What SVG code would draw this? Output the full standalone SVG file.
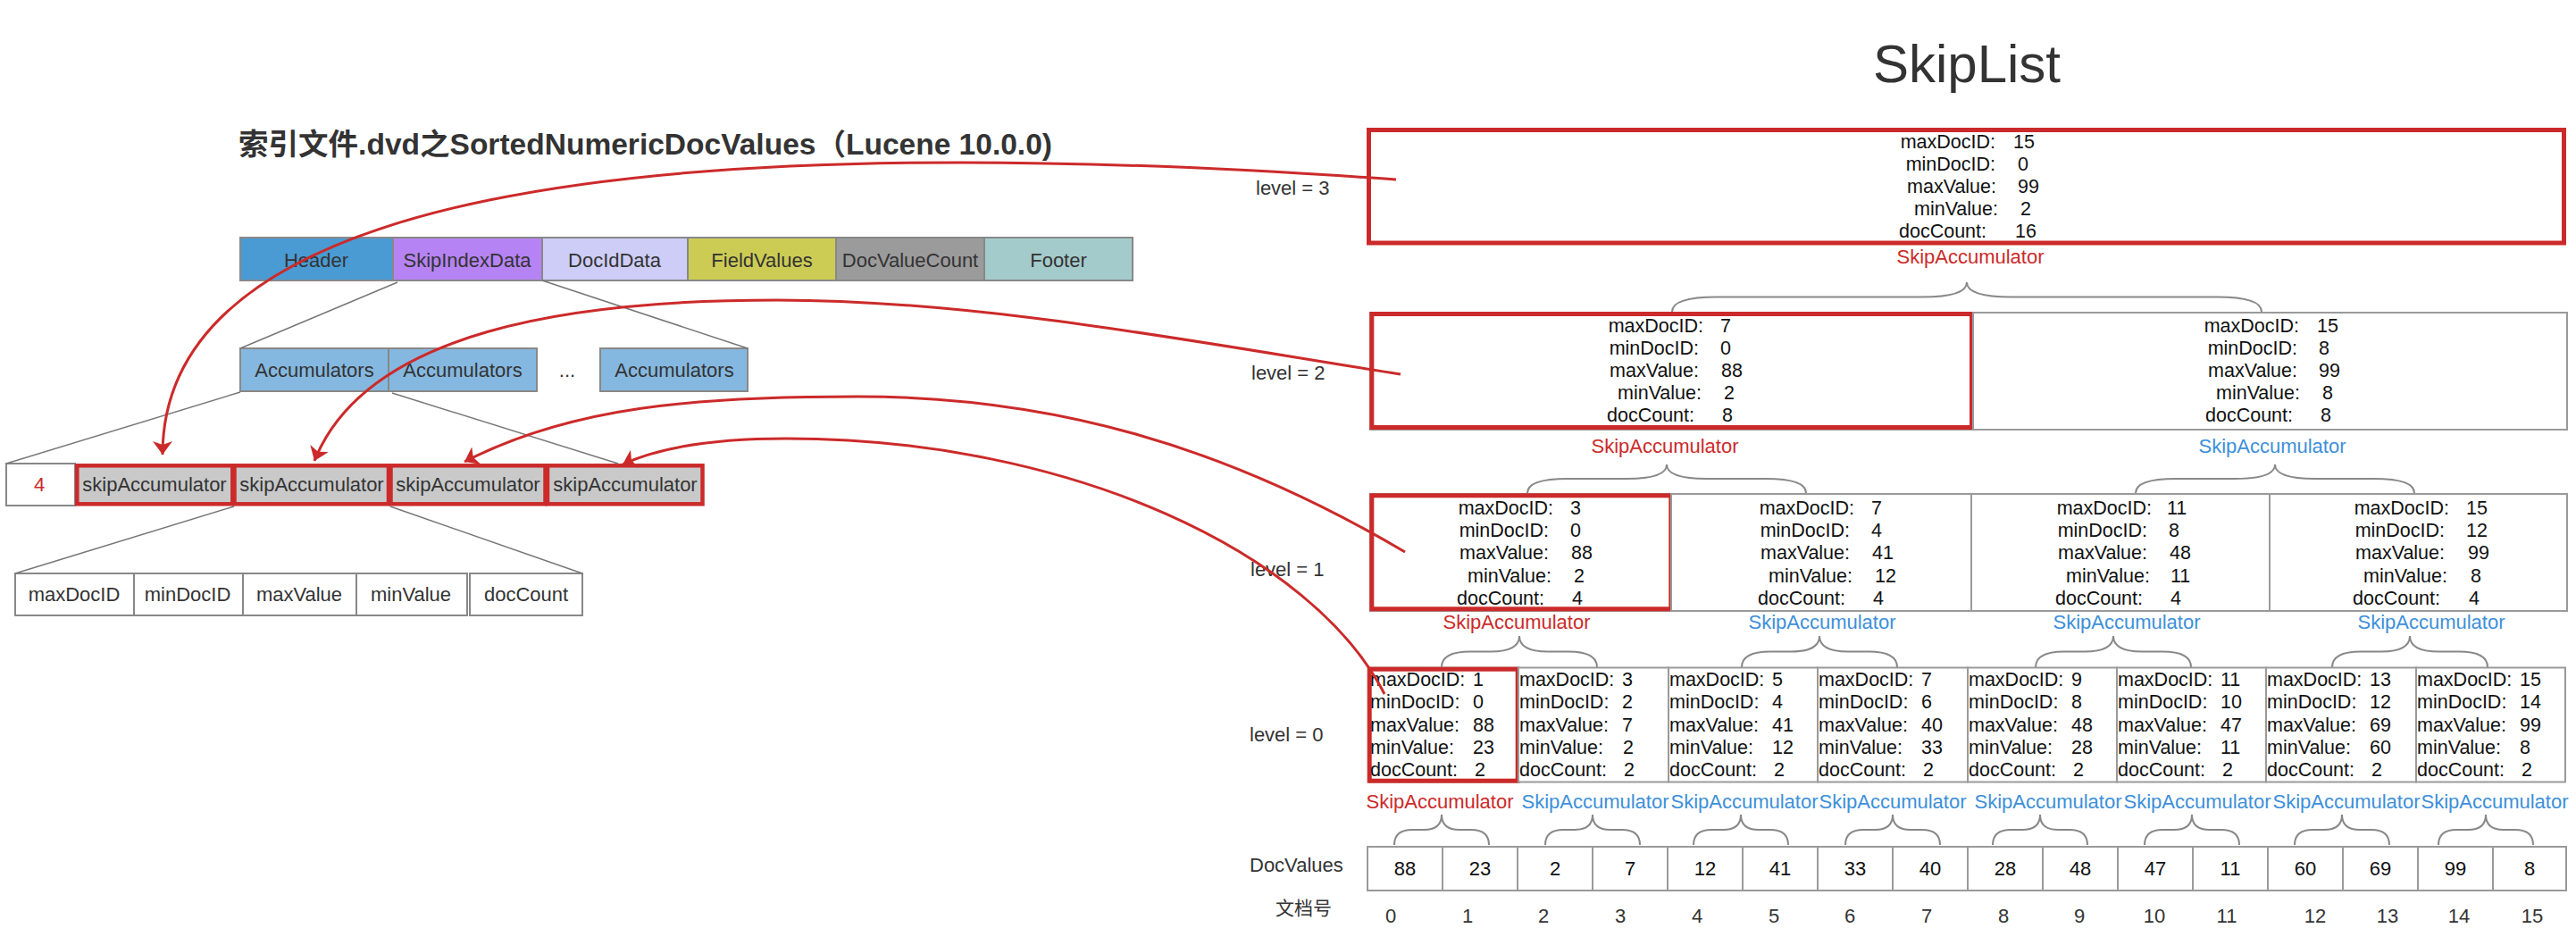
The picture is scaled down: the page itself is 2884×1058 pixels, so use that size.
<svg xmlns="http://www.w3.org/2000/svg" width="2884" height="1058" viewBox="0 0 2884 1058">
<style>
.t{font-family:"Liberation Sans",Arial,"Noto Sans CJK SC",sans-serif;font-size:22px;fill:#333}
.d{font-family:"Liberation Sans",Arial,sans-serif;font-size:21.5px;fill:#111}
.c{text-anchor:middle}
.e{text-anchor:end}
.red{fill:#cc2a2a}
.blue{fill:#3d8fd9}
.box{fill:#fff;stroke:#9a9a9a;stroke-width:2}
.hl{fill:none;stroke:#cc2a2a;stroke-width:5}
.cell{stroke:#888;stroke-width:2}
.skc{fill:#c9c9c9;stroke:#cc2a2a;stroke-width:4.5}
.gl{fill:none;stroke:#777;stroke-width:1.5}
.brace{fill:none;stroke:#888;stroke-width:2}
.arr{fill:none;stroke:#cc2a2a;stroke-width:3;marker-end:url(#ah)}
</style>
<defs>
<marker id="ah" markerUnits="userSpaceOnUse" viewBox="0 0 15 22" refX="15" refY="11" markerWidth="15" markerHeight="22" orient="auto">
<path d="M0,0 L15,11 L0,22 L4,11 Z" fill="#cc2a2a"/>
</marker>
<path id="brA" class="brace" d="M-330,33 Q-330,16.5 -280,16.5 L-50,16.5 Q0,16.5 0,0 Q0,16.5 50,16.5 L280,16.5 Q330,16.5 330,33"/>
<path id="brB" class="brace" d="M-156,32 Q-156,16 -111,16 L-45,16 Q0,16 0,0 Q0,16 45,16 L111,16 Q156,16 156,32"/>
<path id="brC" class="brace" d="M-87,35 Q-87,17.5 -55,17.5 L-32,17.5 Q0,17.5 0,0 Q0,17.5 32,17.5 L55,17.5 Q87,17.5 87,35"/>
<path id="brD" class="brace" d="M-53,34 Q-53,17 -33,17 L-20,17 Q0,17 0,0 Q0,17 20,17 L33,17 Q53,17 53,34"/>
</defs>
<rect width="2884" height="1058" fill="#fff"/>

<g id="titles">
<text x="267" y="173" textLength="911" lengthAdjust="spacingAndGlyphs" style="font-family:'Liberation Sans',Arial,'Noto Sans CJK SC',sans-serif;font-size:33px;font-weight:bold;fill:#333">索引文件.dvd之SortedNumericDocValues（Lucene 10.0.0)</text>
<text x="2202" y="92" class="c" style="font-family:'Liberation Sans',Arial,sans-serif;font-size:60px;fill:#333">SkipList</text>
</g>

<!-- left: file structure -->
<g id="header-row">
<rect class="cell" x="269" y="266" width="171" height="48" fill="#4a9bd3"/>
<rect class="cell" x="440" y="266" width="167" height="48" fill="#b683f4"/>
<rect class="cell" x="607" y="266" width="163" height="48" fill="#cdcdf8"/>
<rect class="cell" x="770" y="266" width="166" height="48" fill="#cccc55"/>
<rect class="cell" x="936" y="266" width="166" height="48" fill="#9b9b9b"/>
<rect class="cell" x="1102" y="266" width="166" height="48" fill="#a4cbcc"/>
<text class="t c" x="354" y="299">Header</text>
<text class="t c" x="523" y="299">SkipIndexData</text>
<text class="t c" x="688" y="299">DocIdData</text>
<text class="t c" x="853" y="299">FieldValues</text>
<text class="t c" x="1019" y="299">DocValueCount</text>
<text class="t c" x="1185" y="299">Footer</text>
</g>

<g id="accumulators">
<rect class="cell" x="269" y="390" width="166" height="48" fill="#85b8e0"/>
<rect class="cell" x="435" y="390" width="166" height="48" fill="#85b8e0"/>
<rect class="cell" x="672" y="390" width="165" height="48" fill="#85b8e0"/>
<text class="t c" x="352" y="422">Accumulators</text>
<text class="t c" x="518" y="422">Accumulators</text>
<text class="t c" x="635" y="422">...</text>
<text class="t c" x="755" y="422">Accumulators</text>
</g>

<g id="skip-row">
<rect class="cell" x="7" y="519" width="77" height="47" fill="#fff"/>
<text class="t c red" x="44" y="550">4</text>
<rect class="skc" x="86.3" y="521.3" width="174" height="43"/>
<rect class="skc" x="262.5" y="521.3" width="172.5" height="43"/>
<rect class="skc" x="437.5" y="521.3" width="173" height="43"/>
<rect class="skc" x="613" y="521.3" width="173.5" height="43"/>
<text class="t c" x="173" y="550">skipAccumulator</text>
<text class="t c" x="349" y="550">skipAccumulator</text>
<text class="t c" x="524" y="550">skipAccumulator</text>
<text class="t c" x="700" y="550">skipAccumulator</text>
</g>

<g id="fields-row">
<rect class="cell" x="17" y="642" width="133" height="47" fill="#fff"/>
<rect class="cell" x="150" y="642" width="122" height="47" fill="#fff"/>
<rect class="cell" x="272" y="642" width="127" height="47" fill="#fff"/>
<rect class="cell" x="399" y="642" width="124" height="47" fill="#fff"/>
<rect class="cell" x="526" y="642" width="126" height="47" fill="#fff"/>
<text class="t c" x="83" y="673">maxDocID</text>
<text class="t c" x="210" y="673">minDocID</text>
<text class="t c" x="335" y="673">maxValue</text>
<text class="t c" x="460" y="673">minValue</text>
<text class="t c" x="589" y="673">docCount</text>
</g>

<g id="left-lines">
<line class="gl" x1="445" y1="316" x2="269" y2="390"/>
<line class="gl" x1="607" y1="314" x2="837" y2="390"/>
<line class="gl" x1="269" y1="439" x2="7" y2="519"/>
<line class="gl" x1="439" y1="440" x2="692" y2="519"/>
<line class="gl" x1="262" y1="567" x2="17" y2="642"/>
<line class="gl" x1="437" y1="567" x2="652" y2="642"/>
</g>

<!-- right: skip list -->
<g id="level-labels">
<text class="t" x="1406" y="218">level = 3</text>
<text class="t" x="1401" y="425">level = 2</text>
<text class="t" x="1400" y="645">level = 1</text>
<text class="t" x="1399" y="830">level = 0</text>
<text class="t" x="1399" y="976">DocValues</text>
<text class="t" x="1428" y="1024" style="font-size:21px">文档号</text>
</g>

<g id="level3">
<rect class="box" x="1533" y="146" width="1339" height="126"/>
<rect class="hl" x="1532.5" y="145.5" width="1338" height="126.5"/>
<text class="d e"><tspan x="2234" y="166">maxDocID:</tspan><tspan x="2234" y="191">minDocID:</tspan><tspan x="2235" y="216">maxValue:</tspan><tspan x="2237" y="241">minValue:</tspan><tspan x="2224" y="266">docCount:</tspan></text>
<text class="d"><tspan x="2254" y="166">15</tspan><tspan x="2259" y="191">0</tspan><tspan x="2259" y="216">99</tspan><tspan x="2262" y="241">2</tspan><tspan x="2256" y="266">16</tspan></text>
<text class="t c red" x="2206" y="295">SkipAccumulator</text>
</g>

<g id="level2-1">
<rect class="box" x="1534" y="350" width="673" height="131"/>
<rect class="hl" x="1535.8" y="351.5" width="671.7" height="127"/>
<text class="d e"><tspan x="1907" y="372">maxDocID:</tspan><tspan x="1902" y="397">minDocID:</tspan><tspan x="1902" y="422">maxValue:</tspan><tspan x="1905" y="447">minValue:</tspan><tspan x="1897" y="472">docCount:</tspan></text>
<text class="d"><tspan x="1926" y="372">7</tspan><tspan x="1926" y="397">0</tspan><tspan x="1927" y="422">88</tspan><tspan x="1930" y="447">2</tspan><tspan x="1928" y="472">8</tspan></text>
<text class="t c red" x="1864" y="507">SkipAccumulator</text>
</g>
<g id="level2-2">
<rect class="box" x="2209" y="350" width="665" height="131"/>
<text class="d e"><tspan x="2574" y="372">maxDocID:</tspan><tspan x="2572" y="397">minDocID:</tspan><tspan x="2572" y="422">maxValue:</tspan><tspan x="2575" y="447">minValue:</tspan><tspan x="2567" y="472">docCount:</tspan></text>
<text class="d"><tspan x="2594" y="372">15</tspan><tspan x="2596" y="397">8</tspan><tspan x="2596" y="422">99</tspan><tspan x="2600" y="447">8</tspan><tspan x="2598" y="472">8</tspan></text>
<text class="t c blue" x="2544" y="507">SkipAccumulator</text>
</g>

<g id="level1-1">
<rect class="box" x="1534" y="553" width="337" height="131"/>
<rect class="hl" x="1535.8" y="554.8" width="335" height="127"/>
<text class="d e"><tspan x="1739" y="576">maxDocID:</tspan><tspan x="1734" y="601">minDocID:</tspan><tspan x="1734" y="626">maxValue:</tspan><tspan x="1737" y="652">minValue:</tspan><tspan x="1729" y="677">docCount:</tspan></text>
<text class="d"><tspan x="1758" y="576">3</tspan><tspan x="1758" y="601">0</tspan><tspan x="1759" y="626">88</tspan><tspan x="1762" y="652">2</tspan><tspan x="1760" y="677">4</tspan></text>
<text class="t c red" x="1698" y="704">SkipAccumulator</text>
</g>
<g id="level1-2">
<rect class="box" x="1871" y="553" width="336" height="131"/>
<text class="d e"><tspan x="2076" y="576">maxDocID:</tspan><tspan x="2071" y="601">minDocID:</tspan><tspan x="2071" y="626">maxValue:</tspan><tspan x="2074" y="652">minValue:</tspan><tspan x="2066" y="677">docCount:</tspan></text>
<text class="d"><tspan x="2095" y="576">7</tspan><tspan x="2095" y="601">4</tspan><tspan x="2096" y="626">41</tspan><tspan x="2099" y="652">12</tspan><tspan x="2097" y="677">4</tspan></text>
<text class="t c blue" x="2040" y="704">SkipAccumulator</text>
</g>
<g id="level1-3">
<rect class="box" x="2207" y="553" width="334" height="131"/>
<text class="d e"><tspan x="2409" y="576">maxDocID:</tspan><tspan x="2404" y="601">minDocID:</tspan><tspan x="2404" y="626">maxValue:</tspan><tspan x="2407" y="652">minValue:</tspan><tspan x="2399" y="677">docCount:</tspan></text>
<text class="d"><tspan x="2426" y="576">11</tspan><tspan x="2428" y="601">8</tspan><tspan x="2429" y="626">48</tspan><tspan x="2430" y="652">11</tspan><tspan x="2430" y="677">4</tspan></text>
<text class="t c blue" x="2381" y="704">SkipAccumulator</text>
</g>
<g id="level1-4">
<rect class="box" x="2541" y="553" width="333" height="131"/>
<text class="d e"><tspan x="2742" y="576">maxDocID:</tspan><tspan x="2737" y="601">minDocID:</tspan><tspan x="2737" y="626">maxValue:</tspan><tspan x="2740" y="652">minValue:</tspan><tspan x="2732" y="677">docCount:</tspan></text>
<text class="d"><tspan x="2761" y="576">15</tspan><tspan x="2761" y="601">12</tspan><tspan x="2763" y="626">99</tspan><tspan x="2766" y="652">8</tspan><tspan x="2764" y="677">4</tspan></text>
<text class="t c blue" x="2722" y="704">SkipAccumulator</text>
</g>

<g id="level0-1">
<rect class="box" x="1533" y="747.5" width="167" height="128"/>
<rect class="hl" x="1533.2" y="749.2" width="166" height="125"/>
<text class="d"><tspan x="1534" y="768">maxDocID:</tspan><tspan x="1649">1</tspan><tspan x="1534" y="793">minDocID:</tspan><tspan x="1649">0</tspan><tspan x="1534" y="819">maxValue:</tspan><tspan x="1649">88</tspan><tspan x="1534" y="844">minValue:</tspan><tspan x="1649">23</tspan><tspan x="1534" y="869">docCount:</tspan><tspan x="1651">2</tspan></text>
<text class="t c red" x="1612" y="905">SkipAccumulator</text>
</g>
<g id="level0-2">
<rect class="box" x="1700" y="747.5" width="168" height="128"/>
<text class="d"><tspan x="1701" y="768">maxDocID:</tspan><tspan x="1816">3</tspan><tspan x="1701" y="793">minDocID:</tspan><tspan x="1816">2</tspan><tspan x="1701" y="819">maxValue:</tspan><tspan x="1816">7</tspan><tspan x="1701" y="844">minValue:</tspan><tspan x="1817">2</tspan><tspan x="1701" y="869">docCount:</tspan><tspan x="1818">2</tspan></text>
<text class="t c blue" x="1786" y="905">SkipAccumulator</text>
</g>
<g id="level0-3">
<rect class="box" x="1868" y="747.5" width="167" height="128"/>
<text class="d"><tspan x="1869" y="768">maxDocID:</tspan><tspan x="1984">5</tspan><tspan x="1869" y="793">minDocID:</tspan><tspan x="1984">4</tspan><tspan x="1869" y="819">maxValue:</tspan><tspan x="1984">41</tspan><tspan x="1869" y="844">minValue:</tspan><tspan x="1984">12</tspan><tspan x="1869" y="869">docCount:</tspan><tspan x="1986">2</tspan></text>
<text class="t c blue" x="1953" y="905">SkipAccumulator</text>
</g>
<g id="level0-4">
<rect class="box" x="2035" y="747.5" width="168" height="128"/>
<text class="d"><tspan x="2036" y="768">maxDocID:</tspan><tspan x="2151">7</tspan><tspan x="2036" y="793">minDocID:</tspan><tspan x="2151">6</tspan><tspan x="2036" y="819">maxValue:</tspan><tspan x="2151">40</tspan><tspan x="2036" y="844">minValue:</tspan><tspan x="2151">33</tspan><tspan x="2036" y="869">docCount:</tspan><tspan x="2153">2</tspan></text>
<text class="t c blue" x="2119" y="905">SkipAccumulator</text>
</g>
<g id="level0-5">
<rect class="box" x="2203" y="747.5" width="167" height="128"/>
<text class="d"><tspan x="2204" y="768">maxDocID:</tspan><tspan x="2319">9</tspan><tspan x="2204" y="793">minDocID:</tspan><tspan x="2319">8</tspan><tspan x="2204" y="819">maxValue:</tspan><tspan x="2319">48</tspan><tspan x="2204" y="844">minValue:</tspan><tspan x="2319">28</tspan><tspan x="2204" y="869">docCount:</tspan><tspan x="2321">2</tspan></text>
<text class="t c blue" x="2293" y="905">SkipAccumulator</text>
</g>
<g id="level0-6">
<rect class="box" x="2370" y="747.5" width="167" height="128"/>
<text class="d"><tspan x="2371" y="768">maxDocID:</tspan><tspan x="2486">11</tspan><tspan x="2371" y="793">minDocID:</tspan><tspan x="2486">10</tspan><tspan x="2371" y="819">maxValue:</tspan><tspan x="2486">47</tspan><tspan x="2371" y="844">minValue:</tspan><tspan x="2486">11</tspan><tspan x="2371" y="869">docCount:</tspan><tspan x="2488">2</tspan></text>
<text class="t c blue" x="2460" y="905">SkipAccumulator</text>
</g>
<g id="level0-7">
<rect class="box" x="2537" y="747.5" width="168" height="128"/>
<text class="d"><tspan x="2538" y="768">maxDocID:</tspan><tspan x="2653">13</tspan><tspan x="2538" y="793">minDocID:</tspan><tspan x="2653">12</tspan><tspan x="2538" y="819">maxValue:</tspan><tspan x="2653">69</tspan><tspan x="2538" y="844">minValue:</tspan><tspan x="2653">60</tspan><tspan x="2538" y="869">docCount:</tspan><tspan x="2655">2</tspan></text>
<text class="t c blue" x="2627" y="905">SkipAccumulator</text>
</g>
<g id="level0-8">
<rect class="box" x="2705" y="747.5" width="167" height="128"/>
<text class="d"><tspan x="2706" y="768">maxDocID:</tspan><tspan x="2821">15</tspan><tspan x="2706" y="793">minDocID:</tspan><tspan x="2821">14</tspan><tspan x="2706" y="819">maxValue:</tspan><tspan x="2821">99</tspan><tspan x="2706" y="844">minValue:</tspan><tspan x="2821">8</tspan><tspan x="2706" y="869">docCount:</tspan><tspan x="2823">2</tspan></text>
<text class="t c blue" x="2793" y="905">SkipAccumulator</text>
</g>

<g id="docvalues">
<rect class="box" x="1531" y="948" width="84" height="49"/>
<rect class="box" x="1615" y="948" width="84" height="49"/>
<rect class="box" x="1699" y="948" width="84" height="49"/>
<rect class="box" x="1783" y="948" width="84" height="49"/>
<rect class="box" x="1867" y="948" width="84" height="49"/>
<rect class="box" x="1951" y="948" width="84" height="49"/>
<rect class="box" x="2035" y="948" width="84" height="49"/>
<rect class="box" x="2119" y="948" width="84" height="49"/>
<rect class="box" x="2203" y="948" width="84" height="49"/>
<rect class="box" x="2287" y="948" width="84" height="49"/>
<rect class="box" x="2371" y="948" width="84" height="49"/>
<rect class="box" x="2455" y="948" width="84" height="49"/>
<rect class="box" x="2539" y="948" width="84" height="49"/>
<rect class="box" x="2623" y="948" width="84" height="49"/>
<rect class="box" x="2707" y="948" width="84" height="49"/>
<rect class="box" x="2791" y="948" width="82" height="49"/>
<text class="d c" style="font-size:22px"><tspan x="1573" y="980">88</tspan><tspan x="1657" y="980">23</tspan><tspan x="1741" y="980">2</tspan><tspan x="1825" y="980">7</tspan><tspan x="1909" y="980">12</tspan><tspan x="1993" y="980">41</tspan><tspan x="2077" y="980">33</tspan><tspan x="2161" y="980">40</tspan><tspan x="2245" y="980">28</tspan><tspan x="2329" y="980">48</tspan><tspan x="2413" y="980">47</tspan><tspan x="2497" y="980">11</tspan><tspan x="2581" y="980">60</tspan><tspan x="2665" y="980">69</tspan><tspan x="2749" y="980">99</tspan><tspan x="2832" y="980">8</tspan></text>
</g>

<g id="doc-ids">
<text class="t c"><tspan x="1557" y="1033">0</tspan><tspan x="1643" y="1033">1</tspan><tspan x="1728" y="1033">2</tspan><tspan x="1814" y="1033">3</tspan><tspan x="1900" y="1033">4</tspan><tspan x="1986" y="1033">5</tspan><tspan x="2071" y="1033">6</tspan><tspan x="2157" y="1033">7</tspan><tspan x="2243" y="1033">8</tspan><tspan x="2328" y="1033">9</tspan><tspan x="2412" y="1033">10</tspan><tspan x="2493" y="1033">11</tspan><tspan x="2592" y="1033">12</tspan><tspan x="2673" y="1033">13</tspan><tspan x="2753" y="1033">14</tspan><tspan x="2835" y="1033">15</tspan></text>
</g>

<g id="braces">
<use href="#brA" x="2202" y="316"/>
<use href="#brB" x="1866" y="520"/>
<use href="#brB" x="2547" y="520"/>
<use href="#brC" x="1701" y="712"/>
<use href="#brC" x="2037" y="712"/>
<use href="#brC" x="2366" y="712"/>
<use href="#brC" x="2698" y="712"/>
<use href="#brD" x="1614" y="912"/>
<use href="#brD" x="1783" y="912"/>
<use href="#brD" x="1949" y="912"/>
<use href="#brD" x="2119" y="912"/>
<use href="#brD" x="2284" y="912"/>
<use href="#brD" x="2454" y="912"/>
<use href="#brD" x="2622" y="912"/>
<use href="#brD" x="2783" y="912"/>
</g>

<g id="connectors">
<path class="arr" d="M1563,201 C700,140 182,220 182,509"/>
<path class="arr" d="M1568,419 C1350,385 1100,336 870,336 C640,336 410,370 352,516"/>
<path class="arr" d="M1573,618 C1373,500 1180,444 960,444 C780,444 640,455 520,517"/>
<path class="arr" d="M1550,777 C1470,620 1200,491 880,491 C800,491 740,500 697,520"/>
</g>
</svg>
